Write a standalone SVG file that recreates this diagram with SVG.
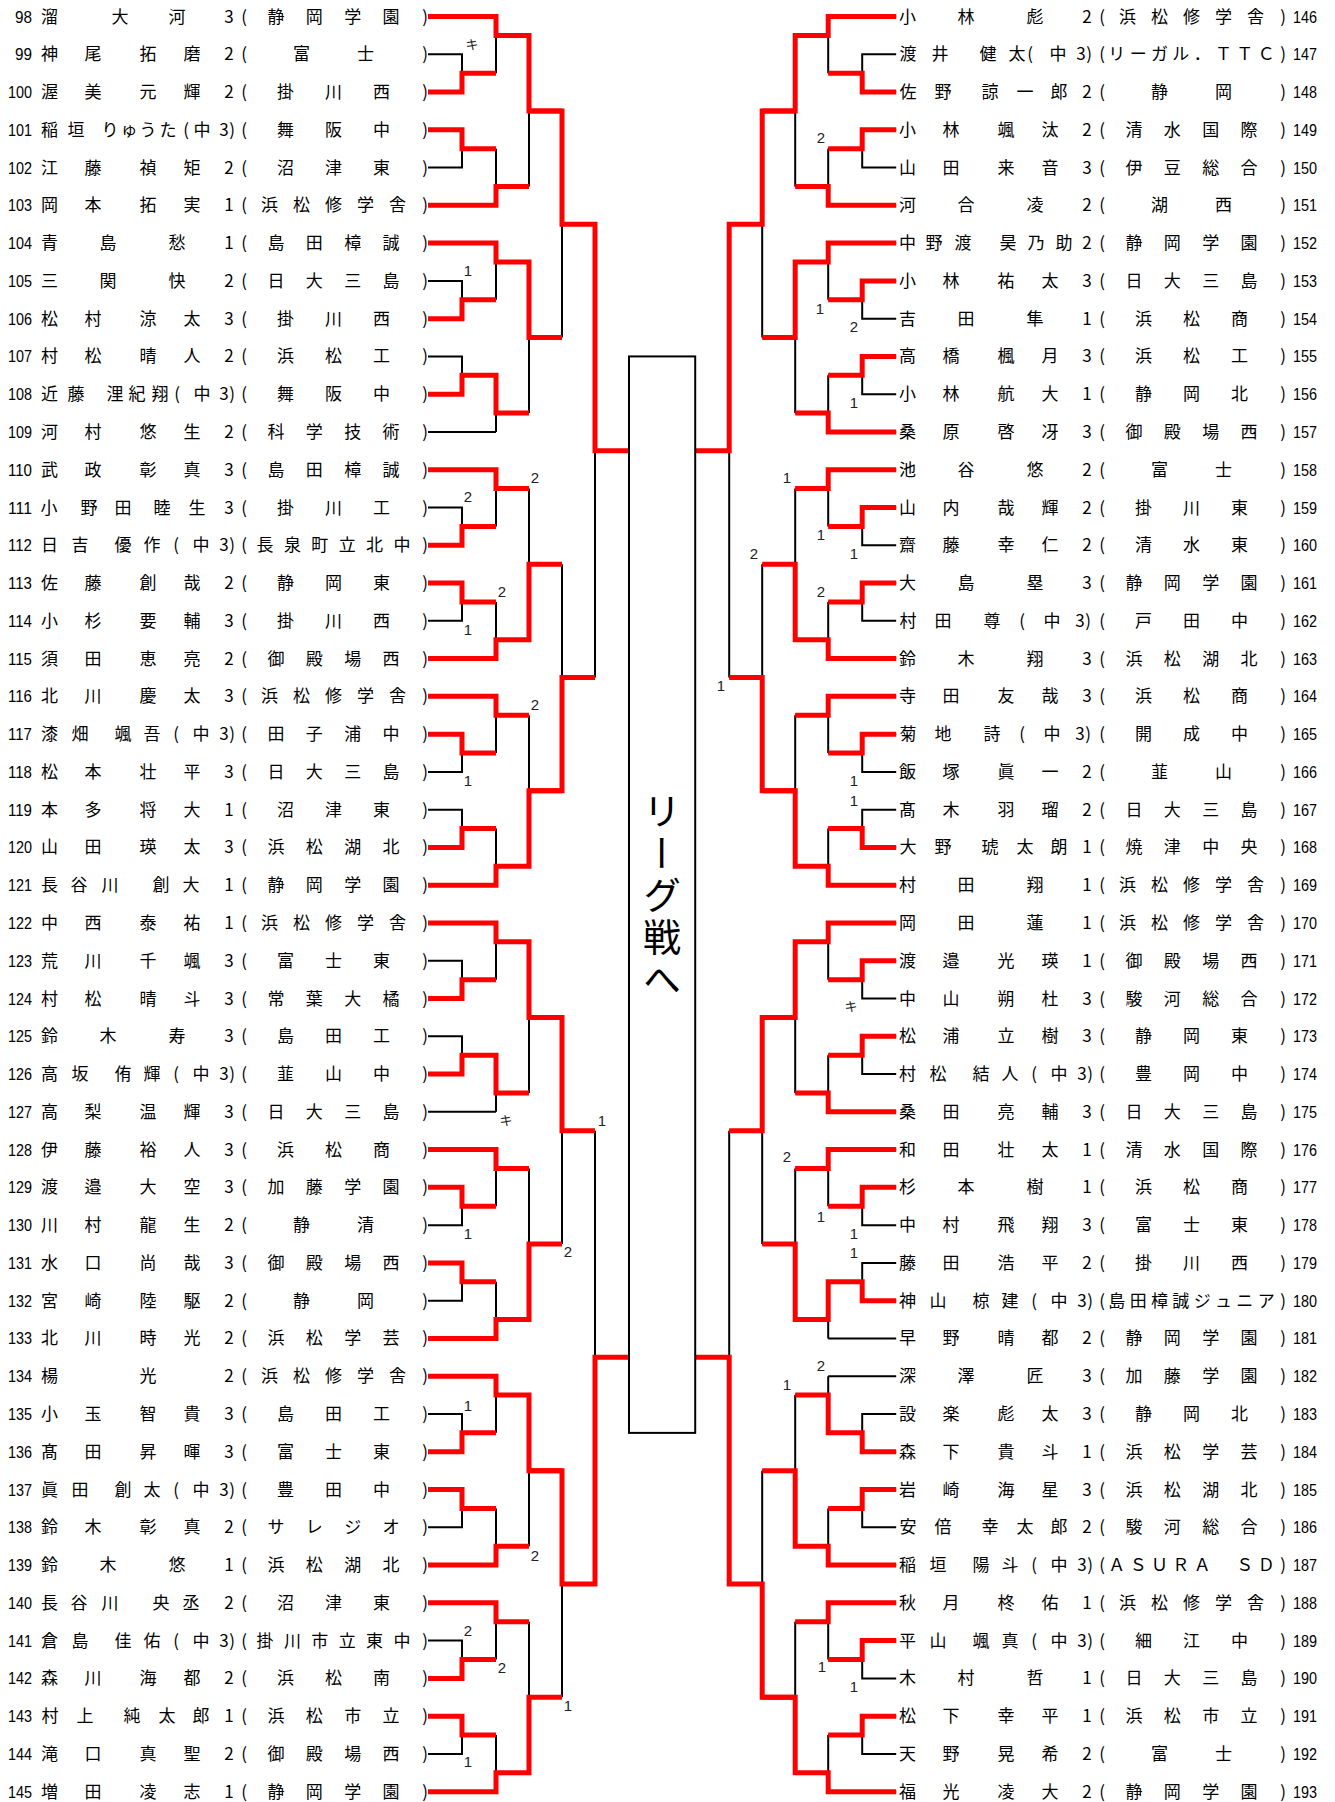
<svg xmlns="http://www.w3.org/2000/svg" width="1335" height="1802" viewBox="0 0 1335 1802">
<style>
.t{font-family:"Noto Sans CJK JP","Noto Sans CJK SC",sans-serif;font-size:17px;text-anchor:middle;fill:#000}
.nl{font-family:"Liberation Sans",sans-serif;font-size:16.5px;text-anchor:end;fill:#000}
.nr{font-family:"Liberation Sans",sans-serif;font-size:16.5px;text-anchor:start;fill:#000}
.lb{font-family:"Liberation Sans",sans-serif;font-size:15px;text-anchor:middle;fill:#222}
.lk{font-family:"Noto Sans CJK JP",sans-serif;font-size:13px;text-anchor:middle;fill:#222}
.bk{fill:none;stroke:#000;stroke-width:2}
.rd{fill:none;stroke:#f00;stroke-width:5;stroke-linejoin:miter}
</style>
<defs>
<path id="sb" d="M428,0H496M428,37.77H462V75.54H428M462,56.655H496M428,113.31H462V151.08H428M462,132.195H496M496,0V56.655M496,132.195V188.85M428,188.85H496M496,18.885H529M496,169.965H529M529,18.885V169.965M529,94.425H562"/>
</defs>
<rect width="1335" height="1802" fill="#fff"/>

<g id="connectors">
<g id="skelL" class="bk">
<use href="#sb" y="16.5"/><use href="#sb" y="243.12"/><use href="#sb" y="469.74"/><use href="#sb" y="696.36"/>
<use href="#sb" y="922.98"/><use href="#sb" y="1149.6"/><use href="#sb" y="1376.22"/><use href="#sb" y="1602.84"/>
<path d="M562,110.93V337.55M562,224.24H595M562,564.17V790.79M562,677.48H595M562,1017.41V1244.03M562,1130.72H595M562,1470.65V1697.27M562,1583.96H595M595,224.24V677.48M595,1130.72V1583.96M595,450.86H629M595,1357.34H629"/>
</g>
<use href="#skelL" transform="matrix(-1 0 0 1 1324.2 0)"/>
<g id="redL" class="rd">
<path transform="translate(0,16.5)" d="M428,0H496V18.885H529V94.425H562M428,75.54H462V56.655H496M428,113.31H462V132.195H496M428,188.85H496V169.965H529"/>
<path transform="translate(0,243.12)" d="M428,0H496V18.885H529V94.425H562M428,75.54H462V56.655H496M428,151.08H462V132.195H496V169.965H529"/>
<path transform="translate(0,469.74)" d="M428,0H496V18.885H529M428,75.54H462V56.655H496M428,113.31H462V132.195H496M428,188.85H496V169.965H529V94.425H562"/>
<path transform="translate(0,696.36)" d="M428,0H496V18.885H529M428,37.77H462V56.655H496M428,151.08H462V132.195H496M428,188.85H496V169.965H529V94.425H562"/>
<path transform="translate(0,922.98)" d="M428,0H496V18.885H529V94.425H562M428,75.54H462V56.655H496M428,151.08H462V132.195H496V169.965H529"/>
<path transform="translate(0,1149.6)" d="M428,0H496V18.885H529M428,37.77H462V56.655H496M428,113.31H462V132.195H496M428,188.85H496V169.965H529V94.425H562"/>
<path transform="translate(0,1376.22)" d="M428,0H496V18.885H529V94.425H562M428,75.54H462V56.655H496M428,113.31H462V132.195H496M428,188.85H496V169.965H529"/>
<path transform="translate(0,1602.84)" d="M428,0H496V18.885H529M428,75.54H462V56.655H496M428,113.31H462V132.195H496M428,188.85H496V169.965H529V94.425H562"/>
<path d="M529,110.93H562V224.24H595V450.86H629M529,790.79H562V677.48H595M529,1017.41H562V1130.72H595M529,1470.65H562V1583.96H595V1357.34H629"/>
</g>
<g id="redR" class="rd" transform="matrix(-1 0 0 1 1324.2 0)">
<path transform="translate(0,16.5)" d="M428,0H496V18.885H529V94.425H562M428,75.54H462V56.655H496M428,113.31H462V132.195H496M428,188.85H496V169.965H529"/>
<path transform="translate(0,243.12)" d="M428,0H496V18.885H529V94.425H562M428,37.77H462V56.655H496M428,113.31H462V132.195H496M428,188.85H496V169.965H529"/>
<path transform="translate(0,469.74)" d="M428,0H496V18.885H529M428,37.77H462V56.655H496M428,113.31H462V132.195H496M428,188.85H496V169.965H529V94.425H562"/>
<path transform="translate(0,696.36)" d="M428,0H496V18.885H529M428,37.77H462V56.655H496M428,151.08H462V132.195H496M428,188.85H496V169.965H529V94.425H562"/>
<path transform="translate(0,922.98)" d="M428,0H496V18.885H529V94.425H562M428,37.77H462V56.655H496M428,113.31H462V132.195H496M428,188.85H496V169.965H529"/>
<path transform="translate(0,1149.6)" d="M428,0H496V18.885H529M428,37.77H462V56.655H496M428,151.08H462V132.195H496V169.965H529V94.425H562"/>
<path transform="translate(0,1376.22)" d="M428,75.54H462V56.655H496V18.885H529M428,113.31H462V132.195H496M428,188.85H496V169.965H529V94.425H562"/>
<path transform="translate(0,1602.84)" d="M428,0H496V18.885H529M428,37.77H462V56.655H496M428,113.31H462V132.195H496M428,188.85H496V169.965H529V94.425H562"/>
<path d="M529,110.93H562V224.24H595V450.86H629M529,790.79H562V677.48H595M529,1017.41H562V1130.72H595M529,1697.27H562V1583.96H595V1357.34H629"/>
</g>
<g id="scores">
<text class="lk" x="472" y="49">キ</text>
<text class="lb" x="468" y="275.5">1</text>
<text class="lb" x="535" y="482.5">2</text>
<text class="lb" x="468" y="502">2</text>
<text class="lb" x="502" y="597">2</text>
<text class="lb" x="468" y="635">1</text>
<text class="lb" x="535" y="709.5">2</text>
<text class="lb" x="468" y="785.5">1</text>
<text class="lk" x="506" y="1124.5">キ</text>
<text class="lb" x="602" y="1125.5">1</text>
<text class="lb" x="468" y="1239">1</text>
<text class="lb" x="568" y="1257">2</text>
<text class="lb" x="468" y="1410.5">1</text>
<text class="lb" x="535" y="1560.5">2</text>
<text class="lb" x="468" y="1635.5">2</text>
<text class="lb" x="502" y="1672.5">2</text>
<text class="lb" x="568" y="1710.5">1</text>
<text class="lb" x="468" y="1767">1</text>
<text class="lb" x="821" y="142.5">2</text>
<text class="lb" x="820" y="313.5">1</text>
<text class="lb" x="854" y="332">2</text>
<text class="lb" x="854" y="407.5">1</text>
<text class="lb" x="787" y="482.5">1</text>
<text class="lb" x="821" y="539.5">1</text>
<text class="lb" x="854" y="558.5">1</text>
<text class="lb" x="754" y="558.5">2</text>
<text class="lb" x="821" y="596.5">2</text>
<text class="lb" x="721" y="690.5">1</text>
<text class="lb" x="854" y="785.5">1</text>
<text class="lb" x="854" y="805.5">1</text>
<text class="lk" x="851" y="1011">キ</text>
<text class="lb" x="787" y="1162">2</text>
<text class="lb" x="821" y="1222">1</text>
<text class="lb" x="854" y="1239">1</text>
<text class="lb" x="854" y="1258">1</text>
<text class="lb" x="821" y="1370.5">2</text>
<text class="lb" x="787" y="1389.5">1</text>
<text class="lb" x="822" y="1672">1</text>
<text class="lb" x="854" y="1692">1</text>
</g>
</g>

<g id="league">
<rect class="bk" x="629" y="356.43" width="66.2" height="1076.45"/>
<text class="t" x="662" y="792" style="writing-mode:vertical-rl;font-size:38px;letter-spacing:4px;text-anchor:start">リーグ戦へ</text>
</g>

<g id="left">
<g id="p98"><text class="nl" x="32" y="22.5" textLength="17" lengthAdjust="spacingAndGlyphs">98</text><text class="t" x="49.5 120 177 229 244 275.9 314.3 352.7 391.1 425" y="22.5">溜大河3(静岡学園)</text></g>
<g id="p99" transform="translate(0,37.77)"><text class="nl" x="32" y="22.5" textLength="17" lengthAdjust="spacingAndGlyphs">99</text><text class="t" x="49.5 93 148 192 229 244 301.5 365.5 425" y="22.5">神尾拓磨2(富士)</text></g>
<g id="p100" transform="translate(0,75.54)"><text class="nl" x="32" y="22.5" textLength="24" lengthAdjust="spacingAndGlyphs">100</text><text class="t" x="49.5 93 148 192 229 244 285.5 333.5 381.5 425" y="22.5">渥美元輝2(掛川西)</text></g>
<g id="p101" transform="translate(0,113.31)"><text class="nl" x="32" y="22.5" textLength="24" lengthAdjust="spacingAndGlyphs">101</text><text class="t" x="49.5 76 110 129 148 168 186 202 224 232 244 285.5 333.5 381.5 425" y="22.5">稲垣りゅうた(中3)(舞阪中)</text></g>
<g id="p102" transform="translate(0,151.08)"><text class="nl" x="32" y="22.5" textLength="24" lengthAdjust="spacingAndGlyphs">102</text><text class="t" x="49.5 93 148 192 229 244 285.5 333.5 381.5 425" y="22.5">江藤禎矩2(沼津東)</text></g>
<g id="p103" transform="translate(0,188.85)"><text class="nl" x="32" y="22.5" textLength="24" lengthAdjust="spacingAndGlyphs">103</text><text class="t" x="49.5 93 148 192 229 244 269.5 301.5 333.5 365.5 397.5 425" y="22.5">岡本拓実1(浜松修学舎)</text></g>
<g id="p104" transform="translate(0,226.62)"><text class="nl" x="32" y="22.5" textLength="24" lengthAdjust="spacingAndGlyphs">104</text><text class="t" x="49.5 108 177 229 244 275.9 314.3 352.7 391.1 425" y="22.5">青島愁1(島田樟誠)</text></g>
<g id="p105" transform="translate(0,264.39)"><text class="nl" x="32" y="22.5" textLength="24" lengthAdjust="spacingAndGlyphs">105</text><text class="t" x="49.5 108 177 229 244 275.9 314.3 352.7 391.1 425" y="22.5">三関快2(日大三島)</text></g>
<g id="p106" transform="translate(0,302.16)"><text class="nl" x="32" y="22.5" textLength="24" lengthAdjust="spacingAndGlyphs">106</text><text class="t" x="49.5 93 148 192 229 244 285.5 333.5 381.5 425" y="22.5">松村涼太3(掛川西)</text></g>
<g id="p107" transform="translate(0,339.93)"><text class="nl" x="32" y="22.5" textLength="24" lengthAdjust="spacingAndGlyphs">107</text><text class="t" x="49.5 93 148 192 229 244 285.5 333.5 381.5 425" y="22.5">村松晴人2(浜松工)</text></g>
<g id="p108" transform="translate(0,377.7)"><text class="nl" x="32" y="22.5" textLength="24" lengthAdjust="spacingAndGlyphs">108</text><text class="t" x="49.5 76 115 137 160 177 202 224 232 244 285.5 333.5 381.5 425" y="22.5">近藤浬紀翔(中3)(舞阪中)</text></g>
<g id="p109" transform="translate(0,415.47)"><text class="nl" x="32" y="22.5" textLength="24" lengthAdjust="spacingAndGlyphs">109</text><text class="t" x="49.5 93 148 192 229 244 275.9 314.3 352.7 391.1 425" y="22.5">河村悠生2(科学技術)</text></g>
<g id="p110" transform="translate(0,453.24)"><text class="nl" x="32" y="22.5" textLength="24" lengthAdjust="spacingAndGlyphs">110</text><text class="t" x="49.5 93 148 192 229 244 275.9 314.3 352.7 391.1 425" y="22.5">武政彰真3(島田樟誠)</text></g>
<g id="p111" transform="translate(0,491.01)"><text class="nl" x="32" y="22.5" textLength="24" lengthAdjust="spacingAndGlyphs">111</text><text class="t" x="49 89 123 162 197 229 244 285.5 333.5 381.5 425" y="22.5">小野田睦生3(掛川工)</text></g>
<g id="p112" transform="translate(0,528.78)"><text class="nl" x="32" y="22.5" textLength="24" lengthAdjust="spacingAndGlyphs">112</text><text class="t" x="49.5 80 123 152 176 201 224 232 244 264.9 292.4 319.8 347.2 374.6 402.1 425" y="22.5">日吉優作(中3)(長泉町立北中)</text></g>
<g id="p113" transform="translate(0,566.55)"><text class="nl" x="32" y="22.5" textLength="24" lengthAdjust="spacingAndGlyphs">113</text><text class="t" x="49.5 93 148 192 229 244 285.5 333.5 381.5 425" y="22.5">佐藤創哉2(静岡東)</text></g>
<g id="p114" transform="translate(0,604.32)"><text class="nl" x="32" y="22.5" textLength="24" lengthAdjust="spacingAndGlyphs">114</text><text class="t" x="49.5 93 148 192 229 244 285.5 333.5 381.5 425" y="22.5">小杉要輔3(掛川西)</text></g>
<g id="p115" transform="translate(0,642.09)"><text class="nl" x="32" y="22.5" textLength="24" lengthAdjust="spacingAndGlyphs">115</text><text class="t" x="49.5 93 148 192 229 244 275.9 314.3 352.7 391.1 425" y="22.5">須田恵亮2(御殿場西)</text></g>
<g id="p116" transform="translate(0,679.86)"><text class="nl" x="32" y="22.5" textLength="24" lengthAdjust="spacingAndGlyphs">116</text><text class="t" x="49.5 93 148 192 229 244 269.5 301.5 333.5 365.5 397.5 425" y="22.5">北川慶太3(浜松修学舎)</text></g>
<g id="p117" transform="translate(0,717.63)"><text class="nl" x="32" y="22.5" textLength="24" lengthAdjust="spacingAndGlyphs">117</text><text class="t" x="49.5 80 123 152 176 201 224 232 244 275.9 314.3 352.7 391.1 425" y="22.5">漆畑颯吾(中3)(田子浦中)</text></g>
<g id="p118" transform="translate(0,755.4)"><text class="nl" x="32" y="22.5" textLength="24" lengthAdjust="spacingAndGlyphs">118</text><text class="t" x="49.5 93 148 192 229 244 275.9 314.3 352.7 391.1 425" y="22.5">松本壮平3(日大三島)</text></g>
<g id="p119" transform="translate(0,793.17)"><text class="nl" x="32" y="22.5" textLength="24" lengthAdjust="spacingAndGlyphs">119</text><text class="t" x="49.5 93 148 192 229 244 285.5 333.5 381.5 425" y="22.5">本多将大1(沼津東)</text></g>
<g id="p120" transform="translate(0,830.94)"><text class="nl" x="32" y="22.5" textLength="24" lengthAdjust="spacingAndGlyphs">120</text><text class="t" x="49.5 93 148 192 229 244 275.9 314.3 352.7 391.1 425" y="22.5">山田瑛太3(浜松湖北)</text></g>
<g id="p121" transform="translate(0,868.71)"><text class="nl" x="32" y="22.5" textLength="24" lengthAdjust="spacingAndGlyphs">121</text><text class="t" x="49.5 79 110 161 191 229 244 275.9 314.3 352.7 391.1 425" y="22.5">長谷川創大1(静岡学園)</text></g>
<g id="p122" transform="translate(0,906.48)"><text class="nl" x="32" y="22.5" textLength="24" lengthAdjust="spacingAndGlyphs">122</text><text class="t" x="49.5 93 148 192 229 244 269.5 301.5 333.5 365.5 397.5 425" y="22.5">中西泰祐1(浜松修学舎)</text></g>
<g id="p123" transform="translate(0,944.25)"><text class="nl" x="32" y="22.5" textLength="24" lengthAdjust="spacingAndGlyphs">123</text><text class="t" x="49.5 93 148 192 229 244 285.5 333.5 381.5 425" y="22.5">荒川千颯3(富士東)</text></g>
<g id="p124" transform="translate(0,982.02)"><text class="nl" x="32" y="22.5" textLength="24" lengthAdjust="spacingAndGlyphs">124</text><text class="t" x="49.5 93 148 192 229 244 275.9 314.3 352.7 391.1 425" y="22.5">村松晴斗3(常葉大橘)</text></g>
<g id="p125" transform="translate(0,1019.79)"><text class="nl" x="32" y="22.5" textLength="24" lengthAdjust="spacingAndGlyphs">125</text><text class="t" x="49.5 108 177 229 244 285.5 333.5 381.5 425" y="22.5">鈴木寿3(島田工)</text></g>
<g id="p126" transform="translate(0,1057.56)"><text class="nl" x="32" y="22.5" textLength="24" lengthAdjust="spacingAndGlyphs">126</text><text class="t" x="49.5 80 123 152 176 201 224 232 244 285.5 333.5 381.5 425" y="22.5">高坂侑輝(中3)(韮山中)</text></g>
<g id="p127" transform="translate(0,1095.33)"><text class="nl" x="32" y="22.5" textLength="24" lengthAdjust="spacingAndGlyphs">127</text><text class="t" x="49.5 93 148 192 229 244 275.9 314.3 352.7 391.1 425" y="22.5">高梨温輝3(日大三島)</text></g>
<g id="p128" transform="translate(0,1133.1)"><text class="nl" x="32" y="22.5" textLength="24" lengthAdjust="spacingAndGlyphs">128</text><text class="t" x="49.5 93 148 192 229 244 285.5 333.5 381.5 425" y="22.5">伊藤裕人3(浜松商)</text></g>
<g id="p129" transform="translate(0,1170.87)"><text class="nl" x="32" y="22.5" textLength="24" lengthAdjust="spacingAndGlyphs">129</text><text class="t" x="49.5 93 148 192 229 244 275.9 314.3 352.7 391.1 425" y="22.5">渡邉大空3(加藤学園)</text></g>
<g id="p130" transform="translate(0,1208.64)"><text class="nl" x="32" y="22.5" textLength="24" lengthAdjust="spacingAndGlyphs">130</text><text class="t" x="49.5 93 148 192 229 244 301.5 365.5 425" y="22.5">川村龍生2(静清)</text></g>
<g id="p131" transform="translate(0,1246.41)"><text class="nl" x="32" y="22.5" textLength="24" lengthAdjust="spacingAndGlyphs">131</text><text class="t" x="49.5 93 148 192 229 244 275.9 314.3 352.7 391.1 425" y="22.5">水口尚哉3(御殿場西)</text></g>
<g id="p132" transform="translate(0,1284.18)"><text class="nl" x="32" y="22.5" textLength="24" lengthAdjust="spacingAndGlyphs">132</text><text class="t" x="49.5 93 148 192 229 244 301.5 365.5 425" y="22.5">宮崎陸駆2(静岡)</text></g>
<g id="p133" transform="translate(0,1321.95)"><text class="nl" x="32" y="22.5" textLength="24" lengthAdjust="spacingAndGlyphs">133</text><text class="t" x="49.5 93 148 192 229 244 275.9 314.3 352.7 391.1 425" y="22.5">北川時光2(浜松学芸)</text></g>
<g id="p134" transform="translate(0,1359.72)"><text class="nl" x="32" y="22.5" textLength="24" lengthAdjust="spacingAndGlyphs">134</text><text class="t" x="49.5 148 229 244 269.5 301.5 333.5 365.5 397.5 425" y="22.5">楊光2(浜松修学舎)</text></g>
<g id="p135" transform="translate(0,1397.49)"><text class="nl" x="32" y="22.5" textLength="24" lengthAdjust="spacingAndGlyphs">135</text><text class="t" x="49.5 93 148 192 229 244 285.5 333.5 381.5 425" y="22.5">小玉智貴3(島田工)</text></g>
<g id="p136" transform="translate(0,1435.26)"><text class="nl" x="32" y="22.5" textLength="24" lengthAdjust="spacingAndGlyphs">136</text><text class="t" x="49.5 93 148 192 229 244 285.5 333.5 381.5 425" y="22.5">髙田昇暉3(富士東)</text></g>
<g id="p137" transform="translate(0,1473.03)"><text class="nl" x="32" y="22.5" textLength="24" lengthAdjust="spacingAndGlyphs">137</text><text class="t" x="49.5 80 123 152 176 201 224 232 244 285.5 333.5 381.5 425" y="22.5">眞田創太(中3)(豊田中)</text></g>
<g id="p138" transform="translate(0,1510.8)"><text class="nl" x="32" y="22.5" textLength="24" lengthAdjust="spacingAndGlyphs">138</text><text class="t" x="49.5 93 148 192 229 244 275.9 314.3 352.7 391.1 425" y="22.5">鈴木彰真2(サレジオ)</text></g>
<g id="p139" transform="translate(0,1548.57)"><text class="nl" x="32" y="22.5" textLength="24" lengthAdjust="spacingAndGlyphs">139</text><text class="t" x="49.5 108 177 229 244 275.9 314.3 352.7 391.1 425" y="22.5">鈴木悠1(浜松湖北)</text></g>
<g id="p140" transform="translate(0,1586.34)"><text class="nl" x="32" y="22.5" textLength="24" lengthAdjust="spacingAndGlyphs">140</text><text class="t" x="49.5 79 110 161 191 229 244 285.5 333.5 381.5 425" y="22.5">長谷川央丞2(沼津東)</text></g>
<g id="p141" transform="translate(0,1624.11)"><text class="nl" x="32" y="22.5" textLength="24" lengthAdjust="spacingAndGlyphs">141</text><text class="t" x="49.5 80 123 152 176 201 224 232 244 264.9 292.4 319.8 347.2 374.6 402.1 425" y="22.5">倉島佳佑(中3)(掛川市立東中)</text></g>
<g id="p142" transform="translate(0,1661.88)"><text class="nl" x="32" y="22.5" textLength="24" lengthAdjust="spacingAndGlyphs">142</text><text class="t" x="49.5 93 148 192 229 244 285.5 333.5 381.5 425" y="22.5">森川海都2(浜松南)</text></g>
<g id="p143" transform="translate(0,1699.65)"><text class="nl" x="32" y="22.5" textLength="24" lengthAdjust="spacingAndGlyphs">143</text><text class="t" x="50 85 132 167 201 229 244 275.9 314.3 352.7 391.1 425" y="22.5">村上純太郎1(浜松市立)</text></g>
<g id="p144" transform="translate(0,1737.42)"><text class="nl" x="32" y="22.5" textLength="24" lengthAdjust="spacingAndGlyphs">144</text><text class="t" x="49.5 93 148 192 229 244 275.9 314.3 352.7 391.1 425" y="22.5">滝口真聖2(御殿場西)</text></g>
<g id="p145" transform="translate(0,1775.19)"><text class="nl" x="32" y="22.5" textLength="24" lengthAdjust="spacingAndGlyphs">145</text><text class="t" x="49.5 93 148 192 229 244 275.9 314.3 352.7 391.1 425" y="22.5">増田凌志1(静岡学園)</text></g>
</g>

<g id="right">
<g id="p146"><text class="t" x="907.5 966 1035 1087 1102 1127.5 1159.5 1191.5 1223.5 1255.5 1283" y="22.5">小林彪2(浜松修学舎)</text><text class="nr" x="1293" y="22.5" textLength="24" lengthAdjust="spacingAndGlyphs">146</text></g>
<g id="p147" transform="translate(0,37.77)"><text class="t" x="908 940 988 1017 1030 1058 1081 1089 1102 1116.8 1138.2 1159.5 1180.8 1202.2 1223.5 1244.8 1266.2 1283" y="22.5">渡井健太(中3)(リーガル．ＴＴＣ)</text><text class="nr" x="1293" y="22.5" textLength="24" lengthAdjust="spacingAndGlyphs">147</text></g>
<g id="p148" transform="translate(0,75.54)"><text class="t" x="908 943 990 1025 1059 1087 1102 1159.5 1223.5 1283" y="22.5">佐野諒一郎2(静岡)</text><text class="nr" x="1293" y="22.5" textLength="24" lengthAdjust="spacingAndGlyphs">148</text></g>
<g id="p149" transform="translate(0,113.31)"><text class="t" x="907.5 951 1006 1050 1087 1102 1133.9 1172.3 1210.7 1249.1 1283" y="22.5">小林颯汰2(清水国際)</text><text class="nr" x="1293" y="22.5" textLength="24" lengthAdjust="spacingAndGlyphs">149</text></g>
<g id="p150" transform="translate(0,151.08)"><text class="t" x="907.5 951 1006 1050 1087 1102 1133.9 1172.3 1210.7 1249.1 1283" y="22.5">山田来音3(伊豆総合)</text><text class="nr" x="1293" y="22.5" textLength="24" lengthAdjust="spacingAndGlyphs">150</text></g>
<g id="p151" transform="translate(0,188.85)"><text class="t" x="907.5 966 1035 1087 1102 1159.5 1223.5 1283" y="22.5">河合凌2(湖西)</text><text class="nr" x="1293" y="22.5" textLength="24" lengthAdjust="spacingAndGlyphs">151</text></g>
<g id="p152" transform="translate(0,226.62)"><text class="t" x="907.5 934 963 1008 1036 1064 1087 1102 1133.9 1172.3 1210.7 1249.1 1283" y="22.5">中野渡昊乃助2(静岡学園)</text><text class="nr" x="1293" y="22.5" textLength="24" lengthAdjust="spacingAndGlyphs">152</text></g>
<g id="p153" transform="translate(0,264.39)"><text class="t" x="907.5 951 1006 1050 1087 1102 1133.9 1172.3 1210.7 1249.1 1283" y="22.5">小林祐太3(日大三島)</text><text class="nr" x="1293" y="22.5" textLength="24" lengthAdjust="spacingAndGlyphs">153</text></g>
<g id="p154" transform="translate(0,302.16)"><text class="t" x="907.5 966 1035 1087 1102 1143.5 1191.5 1239.5 1283" y="22.5">吉田隼1(浜松商)</text><text class="nr" x="1293" y="22.5" textLength="24" lengthAdjust="spacingAndGlyphs">154</text></g>
<g id="p155" transform="translate(0,339.93)"><text class="t" x="907.5 951 1006 1050 1087 1102 1143.5 1191.5 1239.5 1283" y="22.5">高橋楓月3(浜松工)</text><text class="nr" x="1293" y="22.5" textLength="24" lengthAdjust="spacingAndGlyphs">155</text></g>
<g id="p156" transform="translate(0,377.7)"><text class="t" x="907.5 951 1006 1050 1087 1102 1143.5 1191.5 1239.5 1283" y="22.5">小林航大1(静岡北)</text><text class="nr" x="1293" y="22.5" textLength="24" lengthAdjust="spacingAndGlyphs">156</text></g>
<g id="p157" transform="translate(0,415.47)"><text class="t" x="907.5 951 1006 1050 1087 1102 1133.9 1172.3 1210.7 1249.1 1283" y="22.5">桑原啓冴3(御殿場西)</text><text class="nr" x="1293" y="22.5" textLength="24" lengthAdjust="spacingAndGlyphs">157</text></g>
<g id="p158" transform="translate(0,453.24)"><text class="t" x="907.5 966 1035 1087 1102 1159.5 1223.5 1283" y="22.5">池谷悠2(富士)</text><text class="nr" x="1293" y="22.5" textLength="24" lengthAdjust="spacingAndGlyphs">158</text></g>
<g id="p159" transform="translate(0,491.01)"><text class="t" x="907.5 951 1006 1050 1087 1102 1143.5 1191.5 1239.5 1283" y="22.5">山内哉輝2(掛川東)</text><text class="nr" x="1293" y="22.5" textLength="24" lengthAdjust="spacingAndGlyphs">159</text></g>
<g id="p160" transform="translate(0,528.78)"><text class="t" x="907.5 951 1006 1050 1087 1102 1143.5 1191.5 1239.5 1283" y="22.5">齋藤幸仁2(清水東)</text><text class="nr" x="1293" y="22.5" textLength="24" lengthAdjust="spacingAndGlyphs">160</text></g>
<g id="p161" transform="translate(0,566.55)"><text class="t" x="907.5 966 1035 1087 1102 1133.9 1172.3 1210.7 1249.1 1283" y="22.5">大島塁3(静岡学園)</text><text class="nr" x="1293" y="22.5" textLength="24" lengthAdjust="spacingAndGlyphs">161</text></g>
<g id="p162" transform="translate(0,604.32)"><text class="t" x="908 943 992 1022 1052 1080 1088 1102 1143.5 1191.5 1239.5 1283" y="22.5">村田尊(中3)(戸田中)</text><text class="nr" x="1293" y="22.5" textLength="24" lengthAdjust="spacingAndGlyphs">162</text></g>
<g id="p163" transform="translate(0,642.09)"><text class="t" x="907.5 966 1035 1087 1102 1133.9 1172.3 1210.7 1249.1 1283" y="22.5">鈴木翔3(浜松湖北)</text><text class="nr" x="1293" y="22.5" textLength="24" lengthAdjust="spacingAndGlyphs">163</text></g>
<g id="p164" transform="translate(0,679.86)"><text class="t" x="907.5 951 1006 1050 1087 1102 1143.5 1191.5 1239.5 1283" y="22.5">寺田友哉3(浜松商)</text><text class="nr" x="1293" y="22.5" textLength="24" lengthAdjust="spacingAndGlyphs">164</text></g>
<g id="p165" transform="translate(0,717.63)"><text class="t" x="908 943 992 1022 1052 1080 1088 1102 1143.5 1191.5 1239.5 1283" y="22.5">菊地詩(中3)(開成中)</text><text class="nr" x="1293" y="22.5" textLength="24" lengthAdjust="spacingAndGlyphs">165</text></g>
<g id="p166" transform="translate(0,755.4)"><text class="t" x="907.5 951 1006 1050 1087 1102 1159.5 1223.5 1283" y="22.5">飯塚眞一2(韮山)</text><text class="nr" x="1293" y="22.5" textLength="24" lengthAdjust="spacingAndGlyphs">166</text></g>
<g id="p167" transform="translate(0,793.17)"><text class="t" x="907.5 951 1006 1050 1087 1102 1133.9 1172.3 1210.7 1249.1 1283" y="22.5">髙木羽瑠2(日大三島)</text><text class="nr" x="1293" y="22.5" textLength="24" lengthAdjust="spacingAndGlyphs">167</text></g>
<g id="p168" transform="translate(0,830.94)"><text class="t" x="908 943 990 1025 1059 1087 1102 1133.9 1172.3 1210.7 1249.1 1283" y="22.5">大野琥太朗1(焼津中央)</text><text class="nr" x="1293" y="22.5" textLength="24" lengthAdjust="spacingAndGlyphs">168</text></g>
<g id="p169" transform="translate(0,868.71)"><text class="t" x="907.5 966 1035 1087 1102 1127.5 1159.5 1191.5 1223.5 1255.5 1283" y="22.5">村田翔1(浜松修学舎)</text><text class="nr" x="1293" y="22.5" textLength="24" lengthAdjust="spacingAndGlyphs">169</text></g>
<g id="p170" transform="translate(0,906.48)"><text class="t" x="907.5 966 1035 1087 1102 1127.5 1159.5 1191.5 1223.5 1255.5 1283" y="22.5">岡田蓮1(浜松修学舎)</text><text class="nr" x="1293" y="22.5" textLength="24" lengthAdjust="spacingAndGlyphs">170</text></g>
<g id="p171" transform="translate(0,944.25)"><text class="t" x="907.5 951 1006 1050 1087 1102 1133.9 1172.3 1210.7 1249.1 1283" y="22.5">渡邉光瑛1(御殿場西)</text><text class="nr" x="1293" y="22.5" textLength="24" lengthAdjust="spacingAndGlyphs">171</text></g>
<g id="p172" transform="translate(0,982.02)"><text class="t" x="907.5 951 1006 1050 1087 1102 1133.9 1172.3 1210.7 1249.1 1283" y="22.5">中山朔杜3(駿河総合)</text><text class="nr" x="1293" y="22.5" textLength="24" lengthAdjust="spacingAndGlyphs">172</text></g>
<g id="p173" transform="translate(0,1019.79)"><text class="t" x="907.5 951 1006 1050 1087 1102 1143.5 1191.5 1239.5 1283" y="22.5">松浦立樹3(静岡東)</text><text class="nr" x="1293" y="22.5" textLength="24" lengthAdjust="spacingAndGlyphs">173</text></g>
<g id="p174" transform="translate(0,1057.56)"><text class="t" x="907.5 938 981 1010 1034 1059 1082 1090 1102 1143.5 1191.5 1239.5 1283" y="22.5">村松結人(中3)(豊岡中)</text><text class="nr" x="1293" y="22.5" textLength="24" lengthAdjust="spacingAndGlyphs">174</text></g>
<g id="p175" transform="translate(0,1095.33)"><text class="t" x="907.5 951 1006 1050 1087 1102 1133.9 1172.3 1210.7 1249.1 1283" y="22.5">桑田亮輔3(日大三島)</text><text class="nr" x="1293" y="22.5" textLength="24" lengthAdjust="spacingAndGlyphs">175</text></g>
<g id="p176" transform="translate(0,1133.1)"><text class="t" x="907.5 951 1006 1050 1087 1102 1133.9 1172.3 1210.7 1249.1 1283" y="22.5">和田壮太1(清水国際)</text><text class="nr" x="1293" y="22.5" textLength="24" lengthAdjust="spacingAndGlyphs">176</text></g>
<g id="p177" transform="translate(0,1170.87)"><text class="t" x="907.5 966 1035 1087 1102 1143.5 1191.5 1239.5 1283" y="22.5">杉本樹1(浜松商)</text><text class="nr" x="1293" y="22.5" textLength="24" lengthAdjust="spacingAndGlyphs">177</text></g>
<g id="p178" transform="translate(0,1208.64)"><text class="t" x="907.5 951 1006 1050 1087 1102 1143.5 1191.5 1239.5 1283" y="22.5">中村飛翔3(富士東)</text><text class="nr" x="1293" y="22.5" textLength="24" lengthAdjust="spacingAndGlyphs">178</text></g>
<g id="p179" transform="translate(0,1246.41)"><text class="t" x="907.5 951 1006 1050 1087 1102 1143.5 1191.5 1239.5 1283" y="22.5">藤田浩平2(掛川西)</text><text class="nr" x="1293" y="22.5" textLength="24" lengthAdjust="spacingAndGlyphs">179</text></g>
<g id="p180" transform="translate(0,1284.18)"><text class="t" x="907.5 938 981 1010 1034 1059 1082 1090 1102 1116.8 1138.2 1159.5 1180.8 1202.2 1223.5 1244.8 1266.2 1283" y="22.5">神山椋建(中3)(島田樟誠ジュニア)</text><text class="nr" x="1293" y="22.5" textLength="24" lengthAdjust="spacingAndGlyphs">180</text></g>
<g id="p181" transform="translate(0,1321.95)"><text class="t" x="907.5 951 1006 1050 1087 1102 1133.9 1172.3 1210.7 1249.1 1283" y="22.5">早野晴都2(静岡学園)</text><text class="nr" x="1293" y="22.5" textLength="24" lengthAdjust="spacingAndGlyphs">181</text></g>
<g id="p182" transform="translate(0,1359.72)"><text class="t" x="907.5 966 1035 1087 1102 1133.9 1172.3 1210.7 1249.1 1283" y="22.5">深澤匠3(加藤学園)</text><text class="nr" x="1293" y="22.5" textLength="24" lengthAdjust="spacingAndGlyphs">182</text></g>
<g id="p183" transform="translate(0,1397.49)"><text class="t" x="907.5 951 1006 1050 1087 1102 1143.5 1191.5 1239.5 1283" y="22.5">設楽彪太3(静岡北)</text><text class="nr" x="1293" y="22.5" textLength="24" lengthAdjust="spacingAndGlyphs">183</text></g>
<g id="p184" transform="translate(0,1435.26)"><text class="t" x="907.5 951 1006 1050 1087 1102 1133.9 1172.3 1210.7 1249.1 1283" y="22.5">森下貴斗1(浜松学芸)</text><text class="nr" x="1293" y="22.5" textLength="24" lengthAdjust="spacingAndGlyphs">184</text></g>
<g id="p185" transform="translate(0,1473.03)"><text class="t" x="907.5 951 1006 1050 1087 1102 1133.9 1172.3 1210.7 1249.1 1283" y="22.5">岩崎海星3(浜松湖北)</text><text class="nr" x="1293" y="22.5" textLength="24" lengthAdjust="spacingAndGlyphs">185</text></g>
<g id="p186" transform="translate(0,1510.8)"><text class="t" x="908 943 990 1025 1059 1087 1102 1133.9 1172.3 1210.7 1249.1 1283" y="22.5">安倍幸太郎2(駿河総合)</text><text class="nr" x="1293" y="22.5" textLength="24" lengthAdjust="spacingAndGlyphs">186</text></g>
<g id="p187" transform="translate(0,1548.57)"><text class="t" x="907.5 938 981 1010 1034 1059 1082 1090 1102 1116.8 1138.2 1159.5 1180.8 1202.2 1223.5 1244.8 1266.2 1283" y="22.5">稲垣陽斗(中3)(ＡＳＵＲＡ　ＳＤ)</text><text class="nr" x="1293" y="22.5" textLength="24" lengthAdjust="spacingAndGlyphs">187</text></g>
<g id="p188" transform="translate(0,1586.34)"><text class="t" x="907.5 951 1006 1050 1087 1102 1127.5 1159.5 1191.5 1223.5 1255.5 1283" y="22.5">秋月柊佑1(浜松修学舎)</text><text class="nr" x="1293" y="22.5" textLength="24" lengthAdjust="spacingAndGlyphs">188</text></g>
<g id="p189" transform="translate(0,1624.11)"><text class="t" x="907.5 938 981 1010 1034 1059 1082 1090 1102 1143.5 1191.5 1239.5 1283" y="22.5">平山颯真(中3)(細江中)</text><text class="nr" x="1293" y="22.5" textLength="24" lengthAdjust="spacingAndGlyphs">189</text></g>
<g id="p190" transform="translate(0,1661.88)"><text class="t" x="907.5 966 1035 1087 1102 1133.9 1172.3 1210.7 1249.1 1283" y="22.5">木村哲1(日大三島)</text><text class="nr" x="1293" y="22.5" textLength="24" lengthAdjust="spacingAndGlyphs">190</text></g>
<g id="p191" transform="translate(0,1699.65)"><text class="t" x="907.5 951 1006 1050 1087 1102 1133.9 1172.3 1210.7 1249.1 1283" y="22.5">松下幸平1(浜松市立)</text><text class="nr" x="1293" y="22.5" textLength="24" lengthAdjust="spacingAndGlyphs">191</text></g>
<g id="p192" transform="translate(0,1737.42)"><text class="t" x="907.5 951 1006 1050 1087 1102 1159.5 1223.5 1283" y="22.5">天野晃希2(富士)</text><text class="nr" x="1293" y="22.5" textLength="24" lengthAdjust="spacingAndGlyphs">192</text></g>
<g id="p193" transform="translate(0,1775.19)"><text class="t" x="907.5 951 1006 1050 1087 1102 1133.9 1172.3 1210.7 1249.1 1283" y="22.5">福光凌大2(静岡学園)</text><text class="nr" x="1293" y="22.5" textLength="24" lengthAdjust="spacingAndGlyphs">193</text></g>
</g>
</svg>
